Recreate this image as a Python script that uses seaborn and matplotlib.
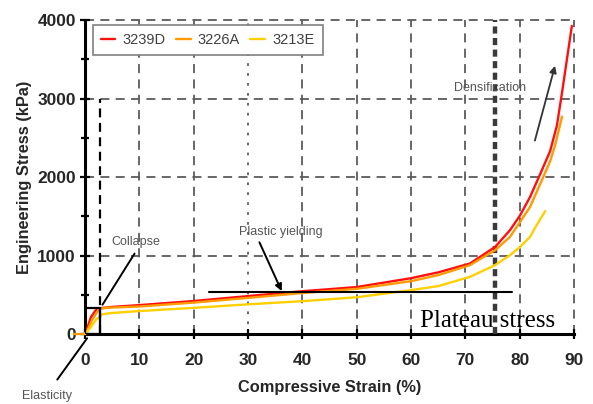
import numpy as np
import pandas as pd
import matplotlib
matplotlib.use("Agg")
import matplotlib.pyplot as plt
import seaborn as sns
from matplotlib.patches import Rectangle
from matplotlib.ticker import MultipleLocator

sns.set_theme(style="white")
plt.rcParams['font.family'] = ['Liberation Sans', 'DejaVu Sans']

# Stress-strain curves of the three foam samples (strain in %, stress in kPa)
strain_3239d = [0, 0.5, 1.1, 2.0, 3.0, 5, 10, 20, 30, 36, 40, 50, 60, 65, 70.85, 75.46,
                78.2, 80.07, 81.9, 83.8, 85.6, 86.85, 87.8, 88.7, 89.6]
stress_3239d = [0, 90, 216, 305, 330, 345, 368, 420, 483, 520, 545, 598, 711, 785, 898, 1109,
                1321, 1512, 1745, 2042, 2330, 2656, 3079, 3503, 3926]

strain_3226a = [-2, 0, 0.5, 1.3, 2.6, 4, 10, 20, 30, 40, 50, 60, 65, 70.85, 75.46,
                78.2, 80.07, 81.9, 83.8, 85.6, 86.5, 87.8]
stress_3226a = [0, 0, 50, 178, 318, 335, 350, 400, 460, 522, 575, 673, 750, 877, 1067,
                1236, 1427, 1618, 1915, 2200, 2400, 2770]

strain_3213e = [0, 1, 2, 3.1, 5, 10, 20, 30, 40, 50, 60, 65, 70.85, 75.46,
                78.2, 80.07, 81.9, 83.1, 84.7]
stress_3213e = [0, 80, 178, 250, 268, 292, 333, 378, 418, 468, 559, 610, 728, 877,
                1004, 1109, 1236, 1385, 1567]

samples = ["3239D", "3226A", "3213E"]
colors = ["#ff1010", "#ff9a00", "#ffd000"]

# Reference marks
collapse_strain = 2.7
collapse_stress = 330
densification_strain = 75.5
plateau_stress = 540
plateau_range = [22.9, 78.6]

x_ticks = [0, 10, 20, 30, 40, 50, 60, 70, 80, 90]
y_ticks = [0, 1000, 2000, 3000, 4000]

df = pd.concat([
    pd.DataFrame({"strain": strain_3239d, "stress": stress_3239d, "sample": "3239D"}),
    pd.DataFrame({"strain": strain_3226a, "stress": stress_3226a, "sample": "3226A"}),
    pd.DataFrame({"strain": strain_3213e, "stress": stress_3213e, "sample": "3213E"}),
], ignore_index=True)

fig = plt.figure(figsize=(5.93, 4.04), dpi=100)
ax = fig.add_axes([0.1433, 0.1733, 0.8247, 0.777])

sns.lineplot(data=df, x="strain", y="stress", hue="sample", hue_order=samples,
             palette=dict(zip(samples, colors)), estimator=None, sort=False,
             lw=1.7, ax=ax, zorder=4, clip_on=False, solid_joinstyle="round")

ax.set_xlim(0, 90)
ax.set_ylim(0, 4000)
ax.set_xticks(x_ticks)
ax.set_yticks(y_ticks)
ax.yaxis.set_minor_locator(MultipleLocator(500))

# dashed grid
ax.grid(True, which="major", color="#5c5c5c", lw=1.3, ls=(0, (5, 3.5)))
for gl in ax.get_xgridlines() + ax.get_ygridlines():
    gl.set_clip_on(False)
ax.get_xgridlines()[3].set_linestyle((0, (1.5, 4)))
ax.set_axisbelow(True)

for side in ["top", "right"]:
    ax.spines[side].set_visible(False)
for side in ["left", "bottom"]:
    ax.spines[side].set_color("black")
    ax.spines[side].set_linewidth(2.2)

ax.tick_params(axis="both", which="major", direction="inout", length=7, width=1.6,
               color="black", labelsize=12.5, bottom=True, left=True)
ax.tick_params(axis="x", pad=10)
ax.tick_params(axis="y", pad=3)
ax.tick_params(axis="y", which="minor", direction="inout", length=6, width=1.6,
               color="black", left=True)
for lab in ax.get_xticklabels() + ax.get_yticklabels():
    lab.set_fontweight("bold")

ax.set_xlabel("Compressive Strain (%)", fontsize=11.8, fontweight="bold", labelpad=9)
ax.set_ylabel("Engineering Stress (kPa)", fontsize=11.8, fontweight="bold", labelpad=4)

# collapse region
ax.plot([collapse_strain, collapse_strain], [0, 3000], color="black", lw=1.6,
        ls=(0, (4, 2.5)), zorder=5)
ax.add_patch(Rectangle((0, 0), collapse_strain, collapse_stress, fill=False,
                       ec="black", lw=1.6, zorder=5))

# densification onset
ax.plot([densification_strain, densification_strain], [0, 4000], color="#3a3a3a",
        lw=3.2, ls=(0, (1.6, 1.0)), zorder=3, clip_on=False)

# plateau stress level
ax.plot(plateau_range, [plateau_stress, plateau_stress], color="black", lw=1.5, zorder=5)
ax.text(74, 170, "Plateau stress", family=["Liberation Serif", "DejaVu Serif"],
        fontsize=18, ha="center", va="center", color="black", zorder=6)

note_color = "#555555"
ax.text(9.3, 1175, "Collapse", fontsize=9, color=note_color, ha="center", va="center")
ax.annotate("", xy=(2.95, 343), xytext=(9.4, 1055),
            arrowprops=dict(arrowstyle="-", color="black", lw=1.4))

ax.text(36, 1300, "Plastic yielding", fontsize=9, color=note_color, ha="center", va="center")
ax.annotate("", xy=(36.2, 546), xytext=(32.1, 1169),
            arrowprops=dict(arrowstyle="-|>", color="black", lw=1.4,
                            mutation_scale=10, shrinkA=0, shrinkB=0))

ax.text(74.5, 3130, "Densification", fontsize=9, color=note_color, ha="center", va="center")
ax.annotate("", xy=(86.5, 3418), xytext=(82.8, 2465),
            arrowprops=dict(arrowstyle="-|>", color="#333333", lw=1.3,
                            mutation_scale=10, shrinkA=0, shrinkB=0))

ax.text(-7.0, -790, "Elasticity", fontsize=9, color=note_color, ha="center", va="center",
        clip_on=False)
ax.annotate("", xy=(0.7, -25), xytext=(-5.4, -610), annotation_clip=False,
            arrowprops=dict(arrowstyle="-", color="black", lw=1.4))

leg = ax.legend(title=None, loc="upper left", bbox_to_anchor=(0.016, 0.984), ncol=3,
                frameon=True, fancybox=False, edgecolor="#808080", framealpha=1,
                fontsize=10.5, handlelength=1.0, columnspacing=0.7, handletextpad=0.5,
                borderpad=0.55, borderaxespad=0, labelcolor="#404040")
leg.get_frame().set_linewidth(1.2)
leg.set_zorder(7)

fig.savefig("out.png", dpi=100, facecolor="white")
